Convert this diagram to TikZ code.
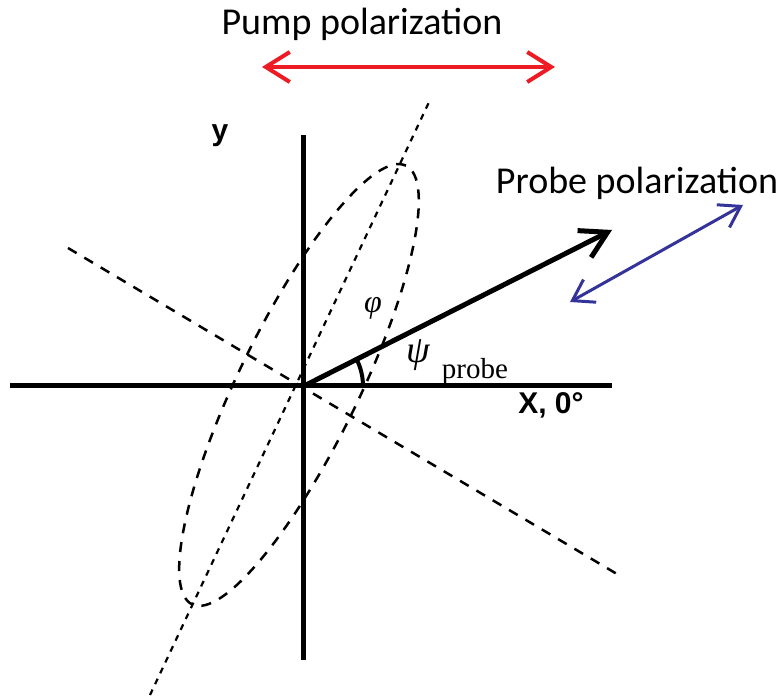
\documentclass[tikz,border=0pt]{standalone}
\usepackage{fontspec}
\setmainfont{Carlito}
\newfontfamily\axisfont{Liberation Sans}
\newfontfamily\subfont{Liberation Serif}
\usetikzlibrary{arrows.meta}
\definecolor{pumpred}{RGB}{237,28,36}
\definecolor{probeblue}{RGB}{51,51,153}

\begin{document}
\begin{tikzpicture}[x=1pt,y=1pt,
	axis/.style={line width=5pt},
	finedash/.style={line width=2.2pt, dash pattern=on 6pt off 6pt},
	coarsedash/.style={line width=2.5pt, dash pattern=on 10pt off 9pt},
	vecarrow/.style={line width=5pt, -{Straight Barb[length=26pt,width=30pt]}},
	polarrow/.style={{Straight Barb[length=24pt,width=30pt]}-{Straight Barb[length=24pt,width=30pt]}},
	biglabel/.style={font=\fontsize{38}{44}\selectfont},
	axislabel/.style={font=\axisfont\bfseries\fontsize{30}{34}\selectfont},
	greek/.style={font=\subfont\itshape\fontsize{32}{36}\selectfont}]
	\useasboundingbox (-304,-314) rectangle (478,386);
	% points
	\coordinate (O) at (0,0);
	\coordinate (ytop) at (0,251);
	\coordinate (ybot) at (0,-274);
	\coordinate (xleft) at (-294,0);
	\coordinate (xright) at (308,0);
	\coordinate (majtop) at (126,286);
	\coordinate (majbot) at (-154,-309);
	\coordinate (minleft) at (-236,138);
	\coordinate (minright) at (318,-191);
	\coordinate (probetip) at (308,156);
	% dashed frame and ellipse
	\draw[finedash] (majbot) -- (majtop);
	\draw[coarsedash] (minleft) -- (minright);
	\draw[coarsedash, rotate around={64:(-5,1)}] (-5,1) ellipse [x radius=244pt, y radius=60pt];
	% axes
	\draw[axis] (xleft) -- (xright);
	\draw[axis] (ybot) -- (ytop);
	\draw[vecarrow] (O) -- (probetip);
	\draw[line width=4pt] (59,0) arc[start angle=0, end angle=26.9, radius=59pt];
	% polarizations
	\coordinate (pumpL) at (-42,319);
	\coordinate (pumpR) at (251,319);
	\draw[pumpred, line width=4pt, polarrow] (pumpL) -- (pumpR);
	\coordinate (probeL) at (266,84);
	\coordinate (probeR) at (439,181);
	\draw[probeblue, line width=3pt, {Straight Barb[length=20pt,width=26pt]}-{Straight Barb[length=20pt,width=26pt]}] (probeL) -- (probeR);
	% labels
	\node[biglabel] (pumplabel) at (58,362) {Pump polarization};
	\node[biglabel] (probelabel) at (333,203) {Probe polarization};
	\node[axislabel] (ylabel) at (-84,250) {y};
	\node[axislabel] (xlabel) at (247,-19) {X, 0\textdegree};
	\node[greek] (philabel) at (69,78) {φ};
	\node[greek, font=\subfont\itshape\fontsize{38}{40}\selectfont] (psilabel) at (114,31) {ψ};
	\node[font=\subfont\fontsize{29}{32}\selectfont] (probesub) at (171,14) {probe};
\end{tikzpicture}
\end{document}
